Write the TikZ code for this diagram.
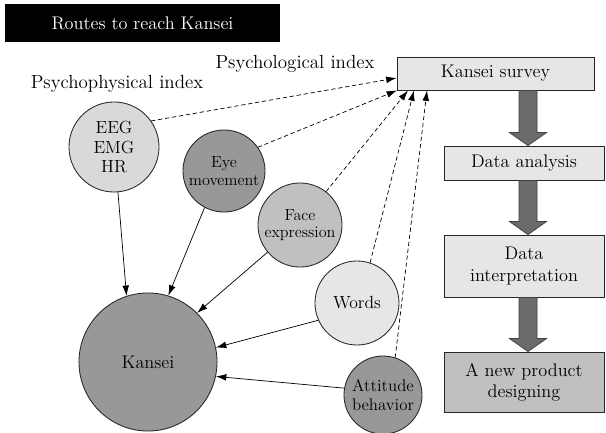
\documentclass[tikz,border=0pt]{standalone}
\usepackage{tikz}
\usetikzlibrary{arrows.meta}
\usetikzlibrary{calc}

\definecolor{palegrey}{HTML}{E6E6E6}
\definecolor{lightgrey}{HTML}{D9D9D9}
\definecolor{midgrey}{HTML}{C0C0C0}
\definecolor{darkgrey}{HTML}{989898}
\definecolor{arrowgrey}{HTML}{6B6B6B}

\tikzset{
    index/.style={circle, draw=black!85, line width=0.6pt, inner sep=0pt, align=center, font=\fontsize{11.5}{12.5}\selectfont},
    stepbox/.style={draw=black!85, line width=0.6pt, align=center, font=\fontsize{13}{15}\selectfont},
    tolabel/.style={-{Latex[length=2.6mm,width=1.7mm]}, line width=0.5pt},
    tosurvey/.style={-{Latex[length=2.6mm,width=1.7mm]}, line width=0.5pt, dash pattern=on 3pt off 2pt},
    fatarrow/.style={fill=arrowgrey, draw=black!75, line width=0.5pt}
}

\newcommand{\fatdown}[2]{%
    \draw[fatarrow] ($(528,0 |- #1.south)+(-9,0)$) -- ($(528,0 |- #2.north)+(-9,-13)$) -- ++(-9.5,0)
        -- (528,0 |- #2.north) -- ++(18.5,-13) -- ++(-9.5,0) -- ($(528,0 |- #1.south)+(9,0)$) -- cycle;}

\begin{document}
\begin{tikzpicture}[x=0.025cm, y=-0.025cm]
        \useasboundingbox (0,0) rectangle (606,433);

        \node[fill=black, text=white, minimum width=6.875cm, minimum height=0.95cm, font=\fontsize{13}{15}\selectfont] (title) at (142.5,23) {Routes to reach Kansei};

        \node[font=\fontsize{13.5}{15}\selectfont] (physlabel) at (117,84) {Psychophysical index};
        \node[font=\fontsize{13.5}{15}\selectfont] (psychlabel) at (295,64) {Psychological index};

        % process on the right
        \node[stepbox, fill=palegrey, minimum width=4.925cm, minimum height=0.825cm] (survey) at (495.5,73.5) {Kansei survey};
        \node[stepbox, fill=palegrey, minimum width=4cm, minimum height=0.85cm] (analysis) at (524,163) {Data analysis};
        \node[stepbox, fill=palegrey, minimum width=4cm, minimum height=1.55cm] (interp) at (524,266) {Data\\interpretation};
        \node[stepbox, fill=midgrey, minimum width=4cm, minimum height=1.5cm] (product) at (524,382) {A new product\\designing};

        \fatdown{survey}{analysis}
        \fatdown{analysis}{interp}
        \fatdown{interp}{product}

        % indices
        \node[index, fill=lightgrey, minimum size=2.25cm, font=\fontsize{12.5}{14}\selectfont] (eeg) at (114,147) {EEG\\EMG\\HR};
        \node[index, fill=darkgrey, minimum size=2.05cm] (eye) at (224,171) {Eye\\movement};
        \node[index, fill=midgrey, minimum size=2.1cm] (face) at (300,225) {Face\\expression};
        \node[index, fill=palegrey, minimum size=2.1cm, font=\fontsize{12.5}{14}\selectfont] (words) at (357,303) {Words};
        \node[index, fill=darkgrey, minimum size=1.95cm, font=\fontsize{12}{13.5}\selectfont] (attitude) at (383,395) {Attitude\\behavior};
        \node[index, fill=darkgrey, minimum size=3.45cm, font=\fontsize{13}{15}\selectfont] (kansei) at (148,362) {Kansei};

        \draw[tolabel] (eeg.275) -- (kansei.108);
        \draw[tolabel] (eye.242) -- (kansei.73);
        \draw[tolabel] (face.220) -- (kansei.45);
        \draw[tolabel] (words.204) -- (kansei.12);
        \draw[tolabel] (attitude.170) -- (kansei.-12);

        \draw[tosurvey] (eeg.35) -- (survey.west |- 0,78);
        \draw[tosurvey] (eye.35) -- (397,0 |- survey.south);
        \draw[tosurvey] (face.52) -- (408,0 |- survey.south);
        \draw[tosurvey] (words.72) -- (414,0 |- survey.south);
        \draw[tosurvey] (attitude.72) -- (427,0 |- survey.south);
\end{tikzpicture}
\end{document}
